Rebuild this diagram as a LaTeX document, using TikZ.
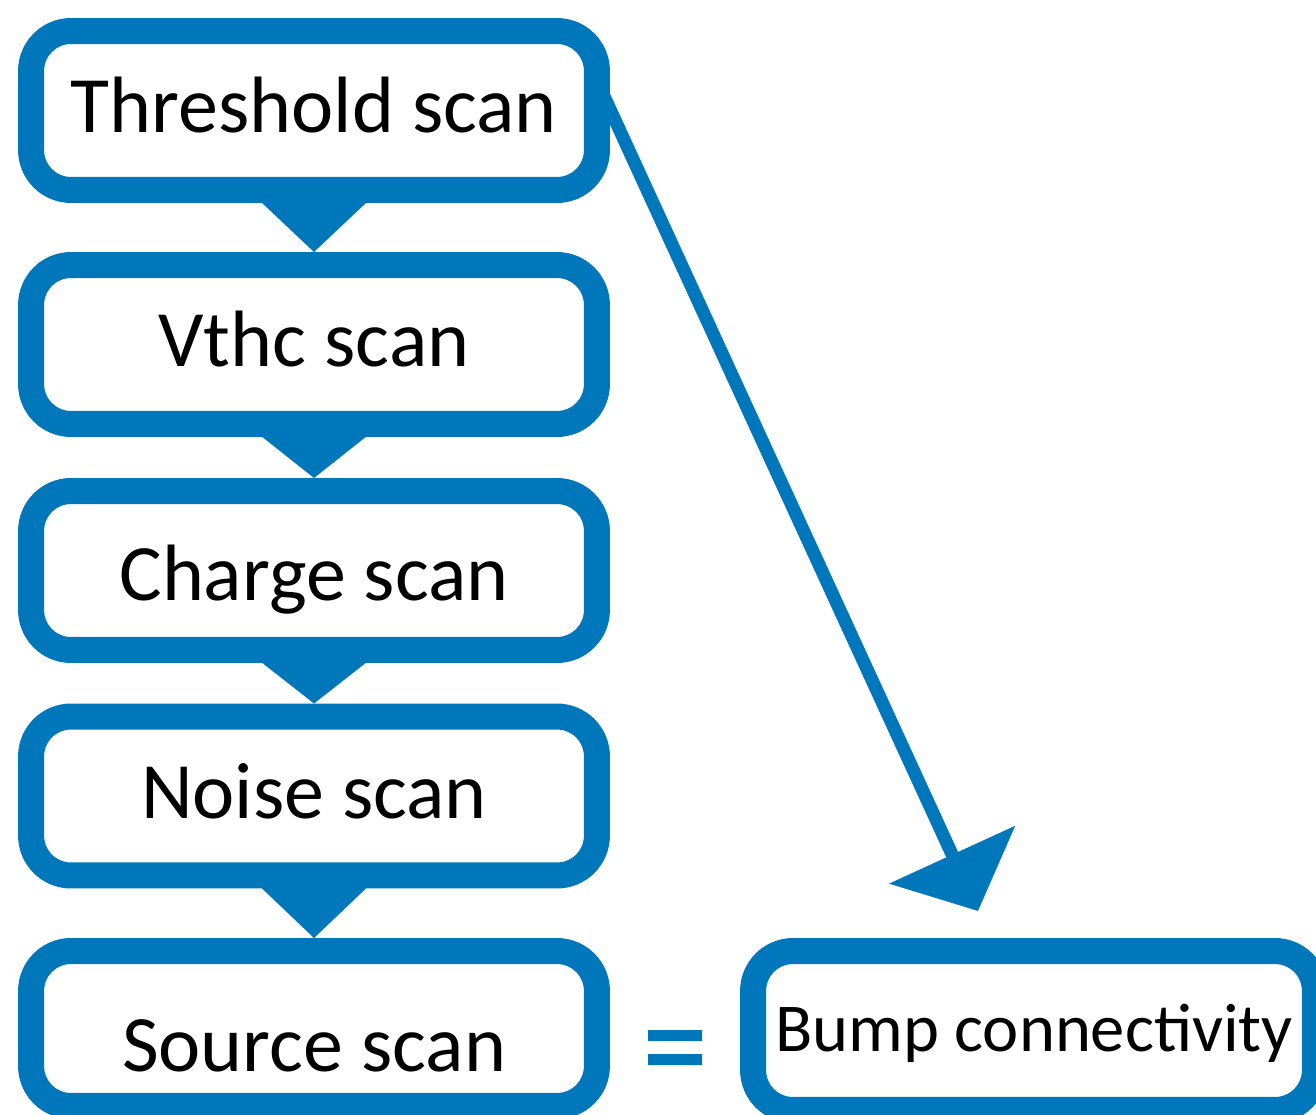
\documentclass[tikz,border=0pt]{standalone}
\usepackage{fontspec}
\setmainfont{Carlito}
\usetikzlibrary{arrows.meta, positioning}
\definecolor{ScanBlue}{HTML}{0077BB}

\begin{document}
\begin{tikzpicture}[x=0.02cm, y=-0.02cm,
    scanbox/.style={draw=ScanBlue, line width=0.52cm, rounded corners=0.8cm, fill=white,
        minimum width=11.32cm, minimum height=3.18cm, inner sep=0pt, outer sep=0.26cm,
        font=\fontsize{45.5}{50}\selectfont, text height=1.15cm, text depth=0.25cm},
    flow/.style={fill=ScanBlue},
    link/.style={ScanBlue, line width=0.26cm, -{Triangle[length=1.24cm, width=2.72cm]}}]
    \useasboundingbox (0,0) rectangle (1316,1115);

    % Scan chain
    \node[scanbox] (thr) at (314, 110.5) {Threshold scan};
    \node[scanbox] (vthc) at (314, 344.5) {Vthc scan};
    \node[scanbox, text height=1.3cm, text depth=0.1cm] (chg) at (314, 570.5) {Charge scan};
    \node[scanbox] (noise) at (314, 796) {Noise scan};
    \node[scanbox, minimum height=3.10cm, text height=1.9cm, text depth=0.18cm] (src) at (314, 1028.5) {Source scan};

    % Result box
    \node[scanbox, minimum width=11.24cm, font=\fontsize{39}{43}\selectfont,
        text height=1.0cm, text depth=0.18cm] (bump) at (1034, 1030.5) {Bump connectivity};

    % Step triangles
    \foreach \a/\b in {thr/vthc, vthc/chg, chg/noise, noise/src}
        \fill[flow] ([xshift=-1.06cm, yshift=0.02cm]\a.south) -- ([xshift=1.06cm, yshift=0.02cm]\a.south) -- (\b.north) -- cycle;

    % Shortcut arrow
    \coordinate (from) at ([xshift=-0.34cm, yshift=0.77cm]thr.east);
    \coordinate (tip) at ([xshift=-1.12cm, yshift=0.54cm]bump.north);
    \draw[link] (from) -- (tip);

    % Equals sign
    \fill[ScanBlue] (648,1030) rectangle (702,1041) (648,1054) rectangle (702,1065);
\end{tikzpicture}
\end{document}
